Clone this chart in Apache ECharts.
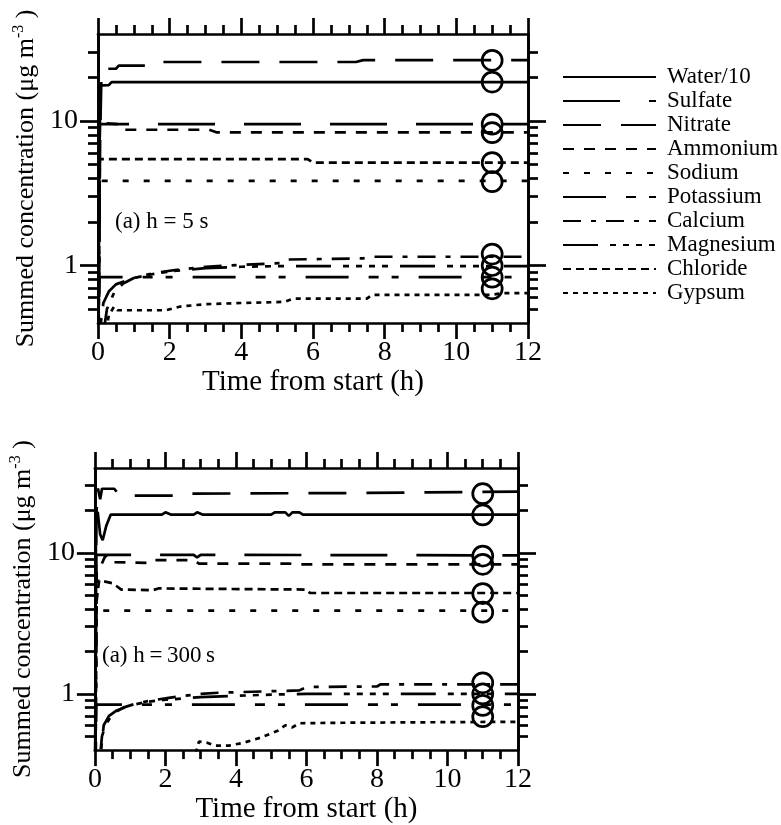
<!DOCTYPE html>
<html>
<head>
<meta charset="utf-8">
<script src="https://cdn.jsdelivr.net/npm/echarts@6/dist/echarts.min.js"></script>
<style>
  html, body { margin: 0; padding: 0; background: #fff; }
  #chart { width: 781px; height: 825px; }
</style>
</head>
<body>
<div id="chart"></div>
<script>
// Summed concentrations of the aerosol species against time, two model runs
// (time step h = 5 s and h = 300 s) with the measured values shown as circles.

const speciesNames = ['Water/10', 'Sulfate', 'Nitrate', 'Ammonium', 'Sodium',
                      'Potassium', 'Calcium', 'Magnesium', 'Chloride', 'Gypsum'];

// measured values (same order as speciesNames), plotted at t = 11 h
const observedTime = 11;
const observedValues = [26.3, 18.6, 9.5, 8.3, 3.8, 0.83, 1.2, 1.0, 5.15, 0.69];

const xTicks = [0, 2, 4, 6, 8, 10, 12];
const yMajorTicks = [1, 10];
const yMinorTicks = [0.5, 0.6, 0.7, 0.8, 0.9, 2, 3, 4, 5, 6, 7, 8, 9, 20, 30];

// ---- run with h = 5 s : [time (h), concentration (ug m-3)] ----
const water_h5 = [[0, 0.1], [0.04, 6], [0.07, 17.6], [0.3, 17.7], [0.38, 18.6], [12, 18.6]];
const sulfate_h5 = [[0, 0.1], [0.05, 9.5], [12, 9.5]];
const nitrate_h5 = [[0, 0.1], [0.06, 8], [0.1, 23.0], [0.5, 23.0], [0.58, 24.2], [1.35, 24.2],
                    [1.45, 25.6], [7.2, 25.6], [7.4, 26.4], [12, 26.4]];
const ammonium_h5 = [[0, 0.1], [0.05, 9.7], [0.55, 9.5], [0.7, 8.7], [3.1, 8.7], [3.3, 8.35], [12, 8.35]];
const sodium_h5 = [[0, 0.1], [0.05, 3.85], [12, 3.85]];
const potassium_h5 = [[0, 0.1], [0.04, 0.83], [12, 0.83]];
const calcium_h5 = [[0, 0.1], [0.12, 0.3], [0.25, 0.5], [0.45, 0.65], [0.7, 0.75], [1.0, 0.82],
                    [1.5, 0.88], [2.0, 0.92], [2.5, 0.95], [3.0, 0.98], [4.0, 1.01], [5.1, 1.04],
                    [5.3, 1.1], [7.4, 1.12], [7.6, 1.15], [12, 1.15]];
const magnesium_h5 = [[0, 0.1], [0.05, 0.35], [0.15, 0.55], [0.3, 0.66], [0.5, 0.74], [1.0, 0.82],
                      [1.5, 0.87], [2.0, 0.91], [2.6, 0.94], [3.0, 0.96], [4.0, 0.98], [5.0, 0.99], [12, 0.99]];
const chloride_h5 = [[0, 0.1], [0.05, 5.45], [5.85, 5.45], [6.0, 5.15], [12, 5.15]];
const gypsum_h5 = [[0, 0.1], [0.18, 0.3], [0.3, 0.45], [0.45, 0.52], [0.55, 0.49], [1.9, 0.49],
                   [2.3, 0.52], [3.0, 0.54], [4.0, 0.55], [5.2, 0.56], [5.45, 0.59], [7.5, 0.59],
                   [7.65, 0.627], [11, 0.627], [11.3, 0.644], [12, 0.644]];

// ---- run with h = 300 s ----
const water_h300 = [[0, 0.1], [0.03, 16], [0.08, 19.5], [0.15, 13.5], [0.22, 12.3], [0.32, 15.5],
                    [0.45, 18.7], [1.9, 18.7], [2.0, 19.4], [2.15, 18.7], [2.8, 18.7], [2.9, 19.4],
                    [3.05, 18.7], [5.0, 18.7], [5.1, 19.4], [5.4, 19.4], [5.5, 18.3], [5.6, 19.4],
                    [5.8, 19.4], [5.9, 18.7], [12, 18.7]];
const sulfate_h300 = [[0, 0.1], [0.04, 9.7], [2.8, 9.7], [2.9, 9.3], [3.0, 9.7], [12, 9.6]];
const nitrate_h300 = [[0, 0.1], [0.04, 18], [0.08, 29], [0.15, 24], [0.2, 28.5], [0.55, 28.5],
                      [0.7, 25.5], [2.3, 25.5], [2.45, 26.3], [7.5, 26.6], [12, 27.2]];
const ammonium_h300 = [[0, 0.1], [0.05, 7.2], [0.12, 7.6], [0.3, 9.6], [0.45, 8.6], [1.55, 8.5],
                       [1.65, 8.9], [2.8, 8.9], [2.95, 8.4], [5.5, 8.4], [5.8, 8.3], [12, 8.3]];
const sodium_h300 = [[0, 0.1], [0.05, 3.9], [12, 3.9]];
const potassium_h300 = [[0, 0.1], [0.04, 0.84], [12, 0.84]];
const calcium_h300 = [[0, 0.1], [0.12, 0.3], [0.2, 0.5], [0.3, 0.6], [0.5, 0.72], [0.8, 0.8],
                      [1.2, 0.86], [1.6, 0.9], [2.0, 0.93], [2.5, 0.97], [3.0, 1.0], [3.5, 1.02],
                      [5.8, 1.06], [6.0, 1.12], [8.0, 1.13], [8.1, 1.17], [12, 1.17]];
const magnesium_h300 = [[0, 0.1], [0.15, 0.35], [0.25, 0.6], [0.4, 0.7], [0.6, 0.76], [1.0, 0.83],
                        [1.5, 0.88], [2.0, 0.91], [3.0, 0.95], [4.0, 0.97], [5.0, 0.99], [6.0, 1.0], [12, 1.0]];
const chloride_h300 = [[0, 0.1], [0.05, 4.6], [0.12, 6.4], [0.5, 6.1], [0.75, 5.5], [1.65, 5.45],
                       [1.8, 5.6], [6.0, 5.5], [6.1, 5.2], [12, 5.2]];
const gypsum_h300 = [[0, 0.1], [2.85, 0.37], [2.95, 0.46], [3.2, 0.45], [3.4, 0.43], [3.8, 0.43],
                     [4.2, 0.45], [4.7, 0.49], [5.2, 0.55], [5.4, 0.6], [5.6, 0.58], [5.8, 0.62],
                     [7.0, 0.625], [12, 0.635]];

const run_h5 = [water_h5, sulfate_h5, nitrate_h5, ammonium_h5, sodium_h5,
                potassium_h5, calcium_h5, magnesium_h5, chloride_h5, gypsum_h5];
const run_h300 = [water_h300, sulfate_h300, nitrate_h300, ammonium_h300, sodium_h300,
                  potassium_h300, calcium_h300, magnesium_h300, chloride_h300, gypsum_h300];

// line dash pattern for each species
const dashPattern = {
  'Water/10': 'solid',
  'Sulfate': [57, 29],
  'Nitrate': [38, 20],
  'Ammonium': [11, 10],
  'Sodium': [6, 15],
  'Potassium': [43, 20, 10, 13, 7, 20],
  'Calcium': [18, 10, 5, 10],
  'Magnesium': [35, 12, 6, 7, 6, 7, 6, 7, 6, 12],
  'Chloride': [8, 5],
  'Gypsum': [5, 5]
};

const FONT = 'Liberation Serif';
const INK = '#000';
const LW = 2.7;

const panels = [
  { grid: { left: 98, top: 34, width: 430, height: 289 }, run: run_h5,
    label: '(a) h = 5 s', labelPos: { left: 115, top: 210 }, nameGap: 50 },
  { grid: { left: 87, top: 468, width: 431, height: 286 }, run: run_h300,
    label: '(a) h\u2009=\u2009300\u2009s', labelPos: { left: 102, top: 644 }, nameGap: 47 }
];

const grids = [], xAxes = [], yAxes = [], series = [], graphics = [];

panels.forEach((p, i) => {
  grids.push(Object.assign({ containLabel: false }, p.grid));

  const axisLine = { show: true, onZero: false, lineStyle: { color: INK, width: LW } };
  const xBase = {
    gridIndex: i, type: 'value', min: 0, max: 12, interval: 2,
    axisLine: axisLine,
    axisTick: { show: true, inside: false, length: 16, lineStyle: { color: INK, width: LW } },
    minorTick: { show: true, splitNumber: 4, length: 9, lineStyle: { color: INK, width: LW } },
    splitLine: { show: false }, minorSplitLine: { show: false }
  };
  xAxes.push(Object.assign({}, xBase, {
    position: 'bottom',
    axisLabel: { show: true, margin: 16, fontFamily: FONT, fontSize: 28, color: INK,
                 customValues: xTicks },
    name: 'Time from start (h)', nameLocation: 'middle', nameGap: 42,
    nameTextStyle: { fontFamily: FONT, fontSize: 29, color: INK }
  }));
  xAxes.push(Object.assign({}, xBase, { position: 'top', axisLabel: { show: false } }));

  const yBase = {
    gridIndex: i, type: 'log', logBase: 10, min: 0.4, max: 40,
    axisLine: axisLine, splitLine: { show: false }
  };
  const majorTick = { show: true, inside: false, length: 18, customValues: yMajorTicks,
                      lineStyle: { color: INK, width: LW } };
  const minorTick = { show: true, inside: false, length: 10, customValues: yMinorTicks,
                      lineStyle: { color: INK, width: LW } };
  yAxes.push(Object.assign({}, yBase, {
    position: 'left', axisTick: majorTick,
    axisLabel: { show: true, margin: 20, fontFamily: FONT, fontSize: 28, color: INK,
                 customValues: yMajorTicks },
    name: '{t|Summed concentration (\u03bcg m}{s|-3}{t| )}',
    nameLocation: 'middle', nameGap: p.nameGap,
    nameTextStyle: {
      rich: {
        t: { fontFamily: FONT, fontSize: 26, color: INK, lineHeight: 30 },
        s: { fontFamily: FONT, fontSize: 16, color: INK, lineHeight: 16, verticalAlign: 'top' }
      }
    }
  }));
  yAxes.push(Object.assign({}, yBase, { position: 'left', axisTick: minorTick, axisLabel: { show: false } }));
  yAxes.push(Object.assign({}, yBase, { position: 'right', axisTick: majorTick, axisLabel: { show: false } }));
  yAxes.push(Object.assign({}, yBase, { position: 'right', axisTick: minorTick, axisLabel: { show: false } }));

  speciesNames.forEach((name, k) => {
    series.push({
      name: name, type: 'line', xAxisIndex: 2 * i, yAxisIndex: 4 * i,
      data: p.run[k], showSymbol: false, symbol: 'none', smooth: false,
      clip: true, silent: true,
      lineStyle: { color: INK, width: LW, type: dashPattern[name] },
      itemStyle: { color: INK },
      z: 3
    });
  });

  series.push({
    name: 'Measured', type: 'scatter', xAxisIndex: 2 * i, yAxisIndex: 4 * i,
    data: observedValues.map(v => [observedTime, v]),
    symbol: 'circle', symbolSize: 20, silent: true,
    itemStyle: { color: 'rgba(0,0,0,0)', borderColor: INK, borderWidth: LW, opacity: 1 },
    z: 4
  });

  graphics.push({
    type: 'text', left: p.labelPos.left, top: p.labelPos.top,
    style: { text: p.label, font: '23px "Liberation Serif"', fill: INK }
  });
});

const chart = echarts.init(document.getElementById('chart'), null, { renderer: 'canvas' });
chart.setOption({
  animation: false,
  backgroundColor: '#fff',
  grid: grids,
  xAxis: xAxes,
  yAxis: yAxes,
  series: series,
  graphic: graphics,
  legend: {
    orient: 'vertical', left: 562, top: 65, padding: 0,
    itemWidth: 93, itemHeight: 14, itemGap: 0,
    selectedMode: false,
    data: speciesNames,
    itemStyle: { opacity: 0 },
    textStyle: { fontFamily: FONT, fontSize: 23, color: INK, lineHeight: 24, padding: [0, 0, 0, 6] }
  }
});
</script>
</body>
</html>
